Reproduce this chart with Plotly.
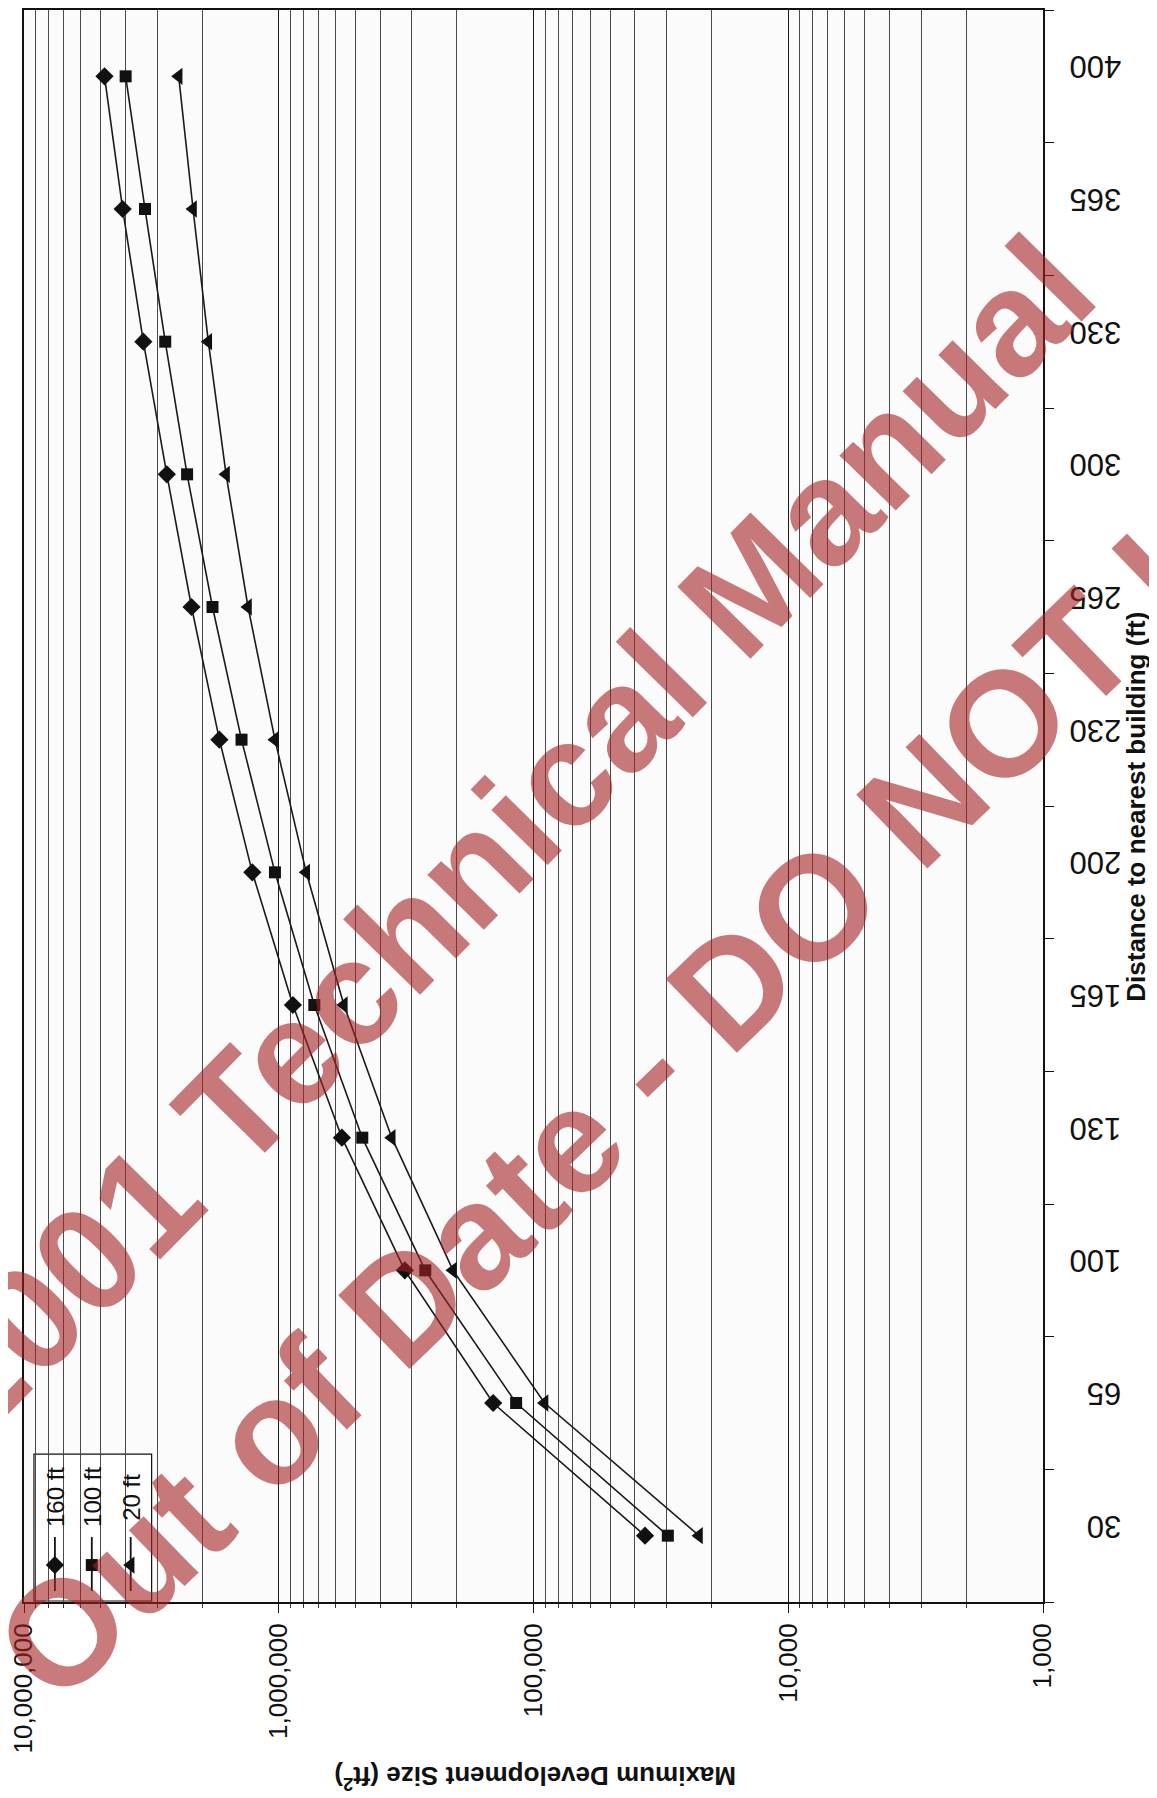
import plotly.graph_objects as go

# ---------------- data ----------------
distances = ["30", "65", "100", "130", "165", "200", "230", "265", "300", "330", "365", "400"]
size_160ft = [36500, 144000, 320000, 565000, 880000, 1270000, 1710000, 2200000, 2750000, 3400000, 4100000, 4830000]
size_100ft = [29700, 117000, 266000, 470000, 725000, 1035000, 1400000, 1820000, 2290000, 2790000, 3350000, 3990000]
size_20ft = [22400, 90500, 207000, 360000, 555000, 780000, 1035000, 1320000, 1610000, 1890000, 2170000, 2470000]
series_names = ["160 ft", "100 ft", "20 ft"]
series_symbols = ["diamond", "square", "triangle-left"]
x_tick_vals = [1000, 10000, 100000, 1000000, 10000000]
x_tick_text = ["1,000", "10,000", "100,000", "1,000,000", "10,000,000"]
x_title = "Maximum Development Size (ft<sup>2</sup>)"
y_title = "Distance to nearest building (ft)"
watermark_1 = "2001 Technical Manual"
watermark_2 = "Out of Date - DO NOT USE"

# ---------------- layout geometry ----------------
OFF = 8                      # page body margin
W, H = 1157 - OFF, 1798 - OFF
L, R, T, B = 13, 1035, 0, 1594   # plot area in figure pixels
PW, PH = R - L, B - T


def px(x):  # page pixel -> paper
    return (x - OFF - L) / PW


def py(y):
    return (B - (y - OFF)) / PH


minor_vals = [m * 10 ** k for k in range(3, 7) for m in range(2, 10)]
FONT = "Liberation Sans, Arial, sans-serif"

fig = go.Figure()
all_series = [size_160ft, size_100ft, size_20ft]
msize = {"diamond": 14, "square": 12, "triangle-left": 15}
for name, vals, sym in zip(series_names, all_series, series_symbols):
    fig.add_trace(go.Scatter(
        x=vals, y=distances, mode="lines+markers", name=name,
        line=dict(color="#1a1a1a", width=1.6),
        marker=dict(symbol=sym, size=msize[sym], color="#111111", line=dict(width=0)),
        showlegend=False,
    ))

# legend samples on an overlay 0..1 axis pair
leg_x = [px(52), px(89), px(128)]
for xx, sym in zip(leg_x, series_symbols):
    fig.add_trace(go.Scatter(x=[xx, xx], y=[py(1537), py(1591)], mode="lines",
                             line=dict(color="#111", width=1.8), xaxis="x2", yaxis="y2",
                             showlegend=False, hoverinfo="skip"))
    fig.add_trace(go.Scatter(x=[xx], y=[py(1565)], mode="markers",
                             marker=dict(symbol=sym, size=msize[sym], color="#111"), xaxis="x2", yaxis="y2",
                             showlegend=False, hoverinfo="skip"))


def note(text, x, y, angle, size, color="#111"):
    return dict(text=text, x=x, y=y, xref="paper", yref="paper", xanchor="center", yanchor="middle",
                showarrow=False, textangle=angle, font=dict(family=FONT, size=size, color=color))


annotations = []
for xx, name in zip(leg_x, series_names):
    annotations.append(note(name, xx, py(1497), -90, 24))

annotations.append(note("<b>" + x_title + "</b>", px(533), py(1777), 180, 26))
annotations.append(note("<b>" + y_title + "</b>", px(1136), py(806), -90, 26))

# watermarks
wm_color = "rgba(165,35,35,0.6)"
annotations.append(note("<b>" + watermark_1 + "</b>", px(503), py(835), -45.5, 149, wm_color))
annotations.append(note("<b>" + watermark_2 + "</b>", px(690), py(1025), -44, 149, wm_color))

shapes = [dict(type="rect", xref="paper", yref="paper", x0=px(31), x1=px(149), y0=py(1601), y1=py(1454),
               fillcolor="white", line=dict(color="#111", width=1.2), layer="between")]

fig.update_layout(
    width=W, height=H,
    margin=dict(l=L, r=W - R, t=T, b=H - B, pad=0),
    paper_bgcolor="white", plot_bgcolor="#fbfbfb",
    showlegend=False,
    xaxis=dict(type="log", range=[7, 3], tickvals=x_tick_vals, ticktext=x_tick_text,
               tickangle=-90, tickfont=dict(family=FONT, size=26, color="#111"),
               ticklabeloverflow="allow",
               showgrid=True, gridcolor="#1a1a1a", gridwidth=1,
               minor=dict(tickvals=minor_vals, showgrid=True, gridcolor="#4a4a4a", gridwidth=1,
                          ticks="outside", ticklen=4, tickcolor="#333"),
               ticks="outside", ticklen=9, tickcolor="#111",
               showline=True, linecolor="#111", linewidth=1.8, mirror=True, zeroline=False),
    yaxis=dict(type="category", categoryorder="array", categoryarray=distances, range=[-0.5, 11.5],
               side="right", tickangle=180, tickfont=dict(family=FONT, size=31, color="#111"),
               showgrid=False, ticks="outside", tickson="boundaries", ticklen=9, tickcolor="#111",
               ticklabelstandoff=70,
               showline=True, linecolor="#111", linewidth=2, mirror=True),
    xaxis2=dict(overlaying="x", range=[0, 1], visible=False),
    yaxis2=dict(overlaying="y", range=[0, 1], visible=False),
    annotations=annotations,
    shapes=shapes,
)

fig.write_html("out.html")
